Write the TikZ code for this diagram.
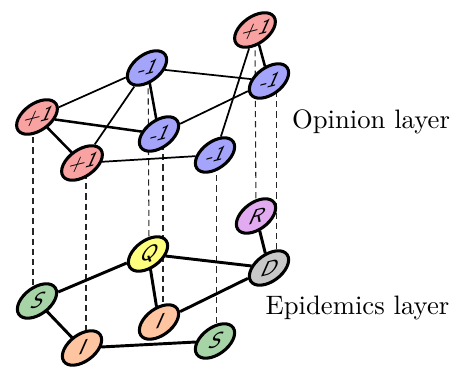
\documentclass[tikz,border=0pt]{standalone}
\usetikzlibrary{shapes.geometric,backgrounds}
\definecolor{opred}{RGB}{248,162,162}
\definecolor{opblue}{RGB}{164,164,250}
\definecolor{epyellow}{RGB}{255,255,125}
\definecolor{eppurple}{RGB}{226,170,240}
\definecolor{epgray}{RGB}{200,200,200}
\definecolor{epgreen}{RGB}{166,212,166}
\definecolor{eporange}{RGB}{255,196,160}
\begin{document}
\begin{tikzpicture}[x=0.375pt,y=-0.375pt,
  vtx/.style={ellipse, draw=black, line width=1.15pt, minimum width=14.4pt,
    minimum height=12.4pt, inner sep=0pt, cm={1,0.25,0.25,1,(0,0)},
    font=\sffamily\itshape\fontsize{7.8}{8}\selectfont},
  thinedge/.style={line width=0.65pt},
  thickedge/.style={line width=0.95pt},
  epedge/.style={line width=1.1pt},
  interlink/.style={dashed, line width=0.4pt, dash pattern=on 2.3pt off 1.5pt, black!85},
  lbl/.style={inner sep=0pt, font=\fontsize{10}{12}\selectfont}]
\useasboundingbox (0,0) rectangle (455,367);
% opinion layer
\node[vtx, fill=opred]  (p1) at (255,30)  {+1};
\node[vtx, fill=opblue] (m1) at (147,68)  {-1};
\node[vtx, fill=opblue] (m2) at (269,81)  {-1};
\node[vtx, fill=opred]  (p2) at (37,117)  {+1};
\node[vtx, fill=opblue] (m3) at (159,134) {-1};
\node[vtx, fill=opred]  (p3) at (82,163)  {+1};
\node[vtx, fill=opblue] (m4) at (215,155) {-1};
% epidemics layer
\node[vtx, fill=eppurple] (r)  at (256,216) {R};
\node[vtx, fill=epyellow] (q)  at (148,254) {Q};
\node[vtx, fill=epgray]   (d)  at (269,268) {D};
\node[vtx, fill=epgreen]  (s1) at (37,301)  {S};
\node[vtx, fill=eporange] (i1) at (159,322) {I};
\node[vtx, fill=eporange] (i2) at (82,348)  {I};
\node[vtx, fill=epgreen]  (s2) at (215,341) {S};
% labels
\node[lbl] (lop) at (371,121.5) {Opinion layer};
\node[lbl] (lep) at (357.5,308) {Epidemics layer};
% opinion edges
\draw[thinedge] (p2) -- (m1);
\draw[thickedge] (p2) -- (m3);
\draw[thickedge] (p2) -- (p3);
\draw[thinedge] (p3) -- (m1);
\draw[thinedge] (p3) -- (m4);
\draw[thinedge] (m1) -- (m2);
\draw[thickedge] (m1) -- (m3);
\draw[thinedge] (m3) -- (m2);
\draw[thinedge] (m4) -- (p1);
\draw[thickedge] (p1) -- (m2);
% epidemics edges
\draw[epedge] (s1) -- (q);
\draw[epedge] (s1) -- (i2);
\draw[epedge] (q) -- (d);
\draw[epedge] (q) -- (i1);
\draw[epedge] (i1) -- (d);
\draw[epedge] (i2) -- (s2);
\draw[epedge] (r) -- (d);
% inter-layer links
\begin{pgfonlayer}{background}
\draw[interlink] ([xshift=-1.5pt]p2.center) -- ([xshift=-1.5pt]s1.center);
\draw[interlink] ([xshift=1.5pt]p3.center) -- ([xshift=1.5pt]i2.center);
\draw[interlink] ([xshift=0.4pt]m1.center) -- ([xshift=0.4pt]q.center);
\draw[interlink] ([xshift=1.5pt]m3.center) -- ([xshift=1.5pt]i1.center);
\draw[interlink] ([xshift=0.4pt]m4.center) -- ([xshift=0.4pt]s2.center);
\draw[interlink] (p1.center) -- (r.center);
\draw[interlink] ([xshift=2.7pt]m2.center) -- ([xshift=2.7pt]d.center);
\end{pgfonlayer}
\end{tikzpicture}
\end{document}
